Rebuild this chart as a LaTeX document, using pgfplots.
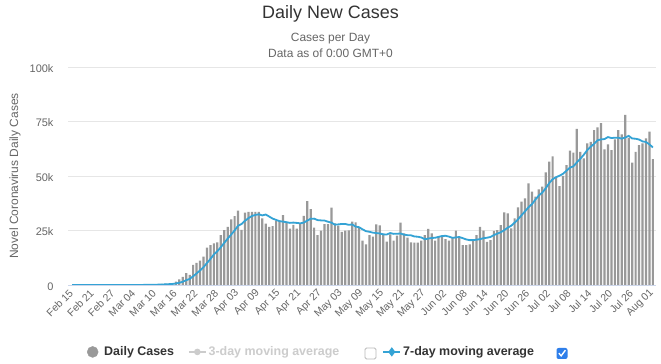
\documentclass[border=0pt]{standalone}
\usepackage{fontspec}
\setmainfont{Liberation Sans}
\usepackage{pgfplots}
\usepackage{pgfplotstable}
\pgfplotsset{compat=1.18}
\definecolor{barc}{HTML}{999999}
\definecolor{linec}{HTML}{34A3D5}
\definecolor{gridc}{HTML}{E6E6E6}
\definecolor{axc}{HTML}{CCD6EB}
\definecolor{tA}{HTML}{333333}
\definecolor{tB}{HTML}{666666}
\definecolor{lg}{HTML}{CCCCCC}
\definecolor{cb}{HTML}{2F7FEA}
\pgfplotstableread{
i c m
0 0 0
1 0 0
2 0 0
3 0 0
4 0 0
5 0 0
6 0 0
7 0 0
8 0 0
9 18 3
10 4 3
11 3 4
12 0 4
13 3 4
14 6 5
15 8 6
16 23 7
17 22 9
18 33 14
19 76 24
20 85 36
21 119 52
22 116 68
23 182 90
24 295 129
25 346 174
26 480 232
27 580 303
28 670 381
29 900 493
30 1550 689
31 2600 1018
32 3700 1497
33 5400 2200
34 4600 2774
35 9200 3993
36 10100 5307
37 11200 6686
38 13000 8170
39 17100 10090
40 18300 11930
41 19100 14000
42 19600 15490
43 22900 17310
44 25200 19310
45 26700 21270
46 30100 23130
47 31600 25030
48 34100 27170
49 25300 27990
50 33200 29460
51 33600 30660
52 33600 31640
53 33600 32140
54 33600 32430
55 30600 31930
56 28100 32330
57 26700 31400
58 27000 30460
59 29500 29870
60 29500 29290
61 32100 29070
62 28800 28810
63 25900 28500
64 27600 28630
65 25900 28470
66 28300 28300
67 31700 28610
68 38500 29530
69 34800 30390
70 26300 30440
71 22900 29770
72 24900 29630
73 27900 29570
74 27900 29030
75 35500 28600
76 28300 27670
77 27200 27800
78 24400 28010
79 24900 28010
80 25000 27600
81 29100 27770
82 28700 26800
83 26300 26510
84 20300 25530
85 18600 24700
86 22900 24410
87 22200 24010
88 27800 23830
89 27400 23640
90 23400 23230
91 19900 23170
92 23200 23830
93 20300 23460
94 22600 23510
95 28600 23630
96 23700 23100
97 21700 22860
98 19600 22810
99 19400 22270
100 19400 22140
101 20300 21810
102 22900 21000
103 25700 21290
104 23700 21570
105 20300 21670
106 22200 22070
107 22200 22470
108 21000 22570
109 20300 22200
110 21800 21640
111 24900 21810
112 21800 22030
113 18300 21470
114 18300 20910
115 18600 20570
116 20600 20610
117 22900 20770
118 26700 21030
119 24900 21470
120 19800 21690
121 20600 22010
122 24800 22900
123 25200 23560
124 27500 24210
125 33300 25160
126 32800 26290
127 26000 27170
128 30600 28600
129 35600 30140
130 38200 32000
131 39700 33740
132 46600 35640
133 42800 37070
134 40500 39140
135 43900 41040
136 45100 42400
137 51700 44330
138 56600 46740
139 59000 48510
140 49400 49460
141 45300 50140
142 50000 51010
143 55000 52430
144 61600 53840
145 60700 54430
146 71600 56230
147 61100 57900
148 58100 59730
149 65000 61870
150 65700 63400
151 71100 64760
152 72300 66410
153 74200 66790
154 62200 66940
155 64500 67860
156 61900 67410
157 66800 67570
158 71100 67570
159 69100 67110
160 78000 67660
161 67500 68410
162 56100 67210
163 61100 67100
164 64200 66730
165 65000 65860
166 67300 65600
167 70300 64500
168 57700 63100
}\data
\begin{document}
\begin{tikzpicture}
\fill[white] (0bp,0bp) rectangle (661bp,364bp);
\useasboundingbox (0bp,0bp) rectangle (661bp,364bp);
\node[font=\fontsize{18}{21}\selectfont, text=tA] at (330.5bp,350bp) {Daily New Cases};
\node[font=\fontsize{12}{14}\selectfont, text=tB] at (330.5bp,325.5bp) {Cases per Day};
\node[font=\fontsize{12}{14}\selectfont, text=tB] at (330.5bp,311bp) {Data as of 0:00 GMT+0};
\begin{axis}[
  at={(68bp,79bp)}, anchor=south west, scale only axis,
  width=588bp, height=218bp,
  xmin=-1.2, xmax=168.9, ymin=0, ymax=100000,
  axis x line*=bottom, axis y line*=left,
  x axis line style={draw=axc, line width=1bp, -},
  y axis line style={draw=none, -},
  tick style={draw=none}, major tick length=0pt,
  scaled y ticks=false,
  ytick={0,25000,50000,75000,100000},
  yticklabels={0,25k,50k,75k,100k},
  xtick={0,6,...,168},
  xticklabels={Feb 15,Feb 21,Feb 27,Mar 04,Mar 10,Mar 16,Mar 22,Mar 28,Apr 03,Apr 09,Apr 15,Apr 21,Apr 27,May 03,May 09,May 15,May 21,May 27,Jun 02,Jun 08,Jun 14,Jun 20,Jun 26,Jul 02,Jul 08,Jul 14,Jul 20,Jul 26,Aug 01},
  ymajorgrids, grid style={draw=gridc, line width=0.8bp},
  yticklabel style={font=\fontsize{11}{13}\selectfont, text=tB, xshift=-11bp, yshift=-1.5bp},
  xticklabel style={font=\fontsize{10.5}{12}\selectfont, text=tB, xshift=1.5bp, yshift=-4bp, rotate=45, anchor=east},
  ylabel={Novel Coronavirus Daily Cases},
  ylabel style={font=\fontsize{12}{14}\selectfont, text=tB, at={(axis description cs:-0.0901,0.5)}, anchor=center},
  legend columns=3,
  legend cell align=left,
  legend style={draw=none, fill=none, inner sep=0pt, at={(axis description cs:0.0323,-0.307)}, anchor=west,
    font=\bfseries\fontsize{12.5}{14}\selectfont, text=tA, column sep=0pt},
]
\addplot[ybar, bar width=2.2bp, fill=barc, draw=none, forget plot] table[x=i, y=c] {\data};
\addplot[linec, line width=1.8bp, no markers, forget plot] table[x=i, y=m] {\data};
\addlegendimage{only marks, color=barc, mark=*, mark size=5.5bp, mark options={solid, fill=barc, draw=barc}}
\addlegendentry{\hspace*{4bp}Daily Cases\hspace*{12bp}}
\addlegendimage{lg, line width=1.5bp, mark=*, mark size=2.5bp, mark options={fill=lg, draw=lg}}
\addlegendentry{\textcolor{lg}{3-day moving average}\hspace*{41bp}}
\addlegendimage{linec, line width=1.8bp, mark=diamond*, mark size=3.2bp, mark options={fill=linec, draw=linec}}
\addlegendentry{7-day moving average}
\end{axis}
\draw[gray!55, line width=0.8bp, rounded corners=1.5bp, fill=white] (365bp,5bp) rectangle (376bp,16bp);
\fill[cb, rounded corners=2bp] (556.5bp,5bp) rectangle (567.5bp,16bp);
\draw[white, line width=1.4bp] (558.8bp,10.8bp) -- (561.2bp,8.2bp) -- (565.4bp,13.8bp);
\end{tikzpicture}
\end{document}
